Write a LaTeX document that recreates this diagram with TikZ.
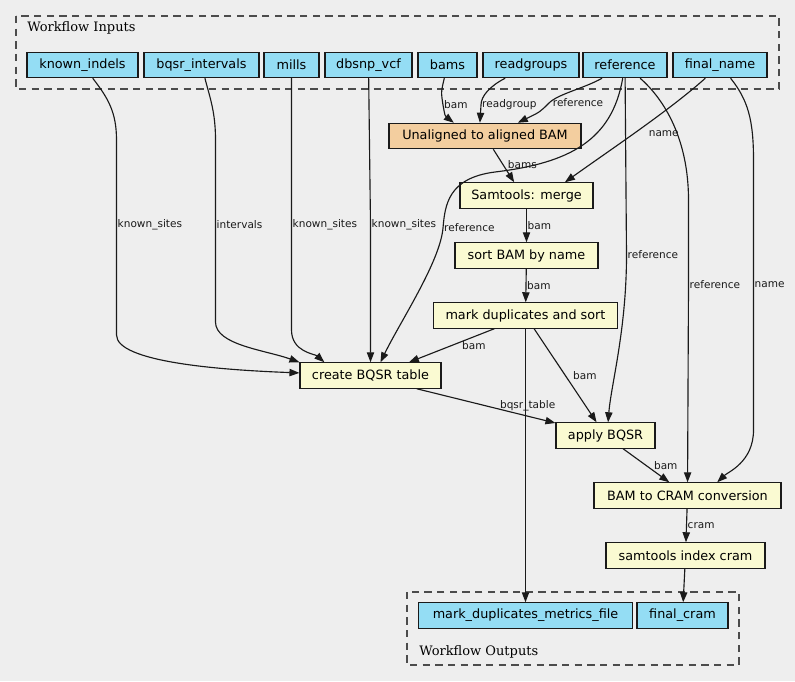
\documentclass[tikz,border=0pt]{standalone}
\usepackage{fontspec}
\setmainfont{DejaVu Sans}
\newfontfamily\titlefont{DejaVu Serif}
\usepackage{tikz}
\usetikzlibrary{arrows.meta}
\definecolor{bgc}{HTML}{EEEEEE}
\definecolor{inpc}{HTML}{94DDF4}
\definecolor{stepc}{HTML}{FAFAD2}
\definecolor{alnc}{HTML}{F3CE9F}
\definecolor{linec}{HTML}{1A1A1A}

\begin{document}
\begin{tikzpicture}[x=0.75pt,y=-0.75pt,
    box/.style={draw=linec, line width=0.85pt, minimum height=19pt, inner sep=0pt, font=\fontsize{9.6}{11}\selectfont},
    inp/.style={box, fill=inpc},
    stepbox/.style={box, fill=stepc},
    flow/.style={draw=linec, line width=0.85pt, -{Triangle[length=7.5pt,width=5.5pt]}},
    lbl/.style={anchor=west, inner sep=0.5pt, font=\fontsize{7.9}{9}\selectfont, text=linec},
    cluster/.style={draw=black!70, line width=0.8pt, dash pattern=on 5.5pt off 4pt},
    ttl/.style={anchor=base west, inner sep=0pt, font=\titlefont\fontsize{9.75}{11}\selectfont}]

            % Background
            \fill[bgc] (0,0) rectangle (795,681);
            \useasboundingbox (0,0) rectangle (795,681);

            % Clusters
            \draw[cluster] (16,16) rectangle (779,89);
            \node[ttl] (intitle) at (27,32) {Workflow Inputs};
            \draw[cluster] (407,592) rectangle (739,665);
            \node[ttl] (outtitle) at (419,655) {Workflow Outputs};

            % Inputs
            \foreach \nm/\txt/\cx/\bw in {indels/known\_indels/82.5/83.25,
                intervals/bqsr\_intervals/201.5/86.25, mills/mills/291.5/41.25,
                dbsnp/dbsnp\_vcf/368.5/65.25, bams/bams/447.5/44.25,
                rgroups/readgroups/531/72, ref/reference/625/63, fname/final\_name/720/70.5}
                \node[inp, minimum width=\bw pt] (\nm) at (\cx,65) {\txt};

            % Tasks
            \node[box, fill=alnc, minimum width=144pt] (unalign) at (485,136) {Unaligned to aligned BAM};
            \node[stepbox, minimum width=99.75pt] (merge) at (526.5,195.5) {Samtools: merge};
            \node[stepbox, minimum width=107.25pt] (sortname) at (526.5,255.5) {sort BAM by name};
            \node[stepbox, minimum width=138pt] (markdup) at (525.5,315.5) {mark duplicates and sort};
            \node[stepbox, minimum width=105.75pt] (bqsrtab) at (370.5,375.5) {create BQSR table};
            \node[stepbox, minimum width=74.25pt] (applybqsr) at (605.5,435.5) {apply BQSR};
            \node[stepbox, minimum width=140.25pt] (tocram) at (687.5,495.5) {BAM to CRAM conversion};
            \node[stepbox, minimum width=119.25pt] (idxcram) at (685.5,555.5) {samtools index cram};

            % Outputs
            \node[inp, minimum width=160.5pt] (metrics) at (525.5,615.5) {mark\_duplicates\_metrics\_file};
            \node[inp, minimum width=68.25pt] (fcram) at (682.5,615.5) {final\_cram};

            % Edges into create BQSR table
            \draw[flow] (indels) .. controls (108,98) and (116.5,112) .. (116.5,140) -- (116.5,225) node[lbl] {known\_sites}
                -- (116.5,335) .. controls (116.5,362) and (220,370) .. (bqsrtab);
            \draw[flow] (intervals) .. controls (210,98) and (215.5,112) .. (215.5,140) -- (215.5,225) node[lbl] {intervals}
                -- (215.5,322) .. controls (215.5,345) and (265,350) .. (bqsrtab.north west);
            \draw[flow] (mills) -- (291.5,225) node[lbl] {known\_sites} -- (291.5,330) .. controls (291.5,352) and (315,354) .. (bqsrtab.164);
            \draw[flow] (dbsnp) -- (370.5,225) node[lbl] {known\_sites} -- (bqsrtab);
            \draw[flow] (ref) .. controls (612,140) and (570,163) .. (495,172) .. controls (448,178) and (445,205) .. (443,228)
                node[lbl] {reference} .. controls (440,262) and (400,322) .. (bqsrtab.53);
            \draw[flow] (markdup.-157) -- node[lbl, pos=0.5, xshift=7pt] {bam} (bqsrtab.19);

            % Edges into alignment and merge
            \draw[flow] (bams) .. controls (441,92) .. (443,105) node[lbl] {bam} .. controls (445,116) .. (unalign.157);
            \draw[flow] (rgroups) .. controls (490,86) and (481,96) .. (481,105) node[lbl] {readgroup} -- (unalign.111);
            \draw[flow] (ref) .. controls (585,88) and (558,94) .. (549,103) node[lbl, xshift=2pt] {reference}
                .. controls (540,112) .. (unalign.22);
            \draw[flow] (unalign.-58) -- node[lbl, pos=0.45, xshift=3pt] {bams} (merge.133);
            \draw[flow] (fname) .. controls (670,110) and (610,150) .. node[lbl, pos=0.53, xshift=10pt] {name} (merge.19);
            \draw[flow] (merge) -- node[lbl] {bam} (sortname);
            \draw[flow] (sortname) -- node[lbl] {bam} (markdup);

            % Edges into apply BQSR and CRAM
            \draw[flow] (markdup.-57) -- node[lbl, pos=0.5, xshift=5pt] {bam} (applybqsr.124);
            \draw[flow] (ref) -- (626.5,255) node[lbl] {reference} .. controls (626.5,330) and (611,385) .. (applybqsr.79);
            \draw[flow] (bqsrtab.-16) -- node[lbl, pos=0.8, anchor=south, yshift=3pt] {bqsr\_table} (applybqsr.166);
            \draw[flow] (ref) .. controls (665,100) and (688.5,140) .. (688.5,200) -- (688.5,285) node[lbl] {reference} -- (tocram);
            \draw[flow] (fname) .. controls (748,100) and (753.5,120) .. (753.5,160) -- (753.5,285) node[lbl] {name}
                -- (753.5,430) .. controls (753.5,462) and (728,472) .. (tocram.24);
            \draw[flow] (applybqsr.-37) -- node[lbl, pos=0.5, xshift=5pt] {bam} (tocram.144);
            \draw[flow] (tocram) -- node[lbl] {cram} (idxcram);

            % Edges into outputs
            \draw[flow] (markdup) -- (metrics);
            \draw[flow] (idxcram) -- (fcram);
        \end{tikzpicture}
\end{document}
